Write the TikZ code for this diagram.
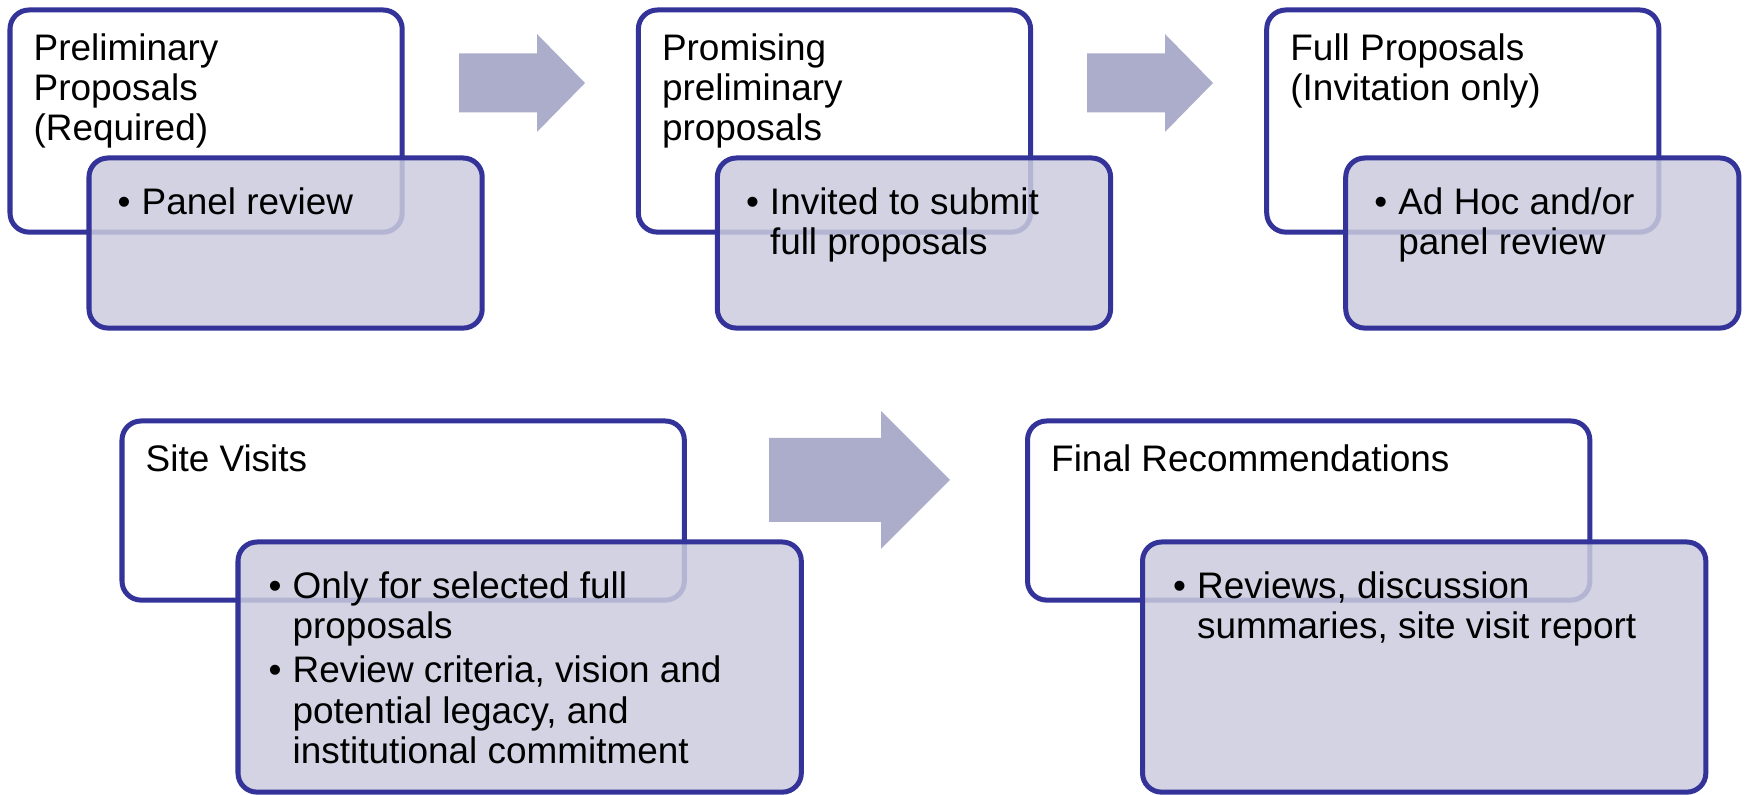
\documentclass[tikz,border=0pt]{standalone}
\usepackage{fontspec}
\setmainfont{Liberation Sans}
\usetikzlibrary{positioning}
\definecolor{stageline}{RGB}{51,51,153}
\definecolor{panelfill}{RGB}{203,203,222}
\definecolor{flowfill}{RGB}{172,172,203}
\newcommand{\bitem}{\textbullet}

\begin{document}
\begin{tikzpicture}[x=0.01cm,y=-0.01cm,node distance=2.36cm,font=\fontsize{10.5}{11.4}\selectfont,
  stage/.style={draw=stageline,line width=0.05cm,rounded corners=0.19cm,fill=white,inner sep=0pt,outer sep=0pt,minimum width=3.92cm,minimum height=2.22cm},
  panel/.style={stage,fill=panelfill,fill opacity=0.85,minimum width=3.93cm,minimum height=1.70cm},
  head/.style={align=left,inner sep=0pt,anchor=north west},
  pts/.style={inner sep=0pt,anchor=north west},
  flow/.style={fill=flowfill}]
\useasboundingbox (0,0) rectangle (1747,795);
% top row
\node[stage,anchor=north west] (pre) at (10,10) {};
\node[stage,right=of pre] (prom) {};
\node[stage,right=of prom] (full) {};
\node[head] (pretxt) at ([shift={(23,23)}]pre.north west) {Preliminary\\Proposals\\(Required)};
\node[head] (promtxt) at ([shift={(23,23)}]prom.north west) {Promising\\preliminary\\proposals};
\node[head] (fulltxt) at ([shift={(23,23)}]full.north west) {Full Proposals\\(Invitation only)};
\node[panel,anchor=north west] (prelist) at ([shift={(79,148)}]pre.north west) {};
\node[panel,anchor=north west] (promlist) at ([shift={(79,148)}]prom.north west) {};
\node[panel,anchor=north west] (fulllist) at ([shift={(79,148)}]full.north west) {};
\node[pts] (prept) at ([shift={(28,28)}]prelist.north west) {\begin{tabular}{@{}l@{\hspace{0.11cm}}l@{}}\bitem & Panel review\end{tabular}};
\node[pts] (prompt) at ([shift={(28,28)}]promlist.north west) {\begin{tabular}{@{}l@{\hspace{0.11cm}}l@{}}\bitem & Invited to submit\\ & full proposals\end{tabular}};
\node[pts] (fullpt) at ([shift={(28,28)}]fulllist.north west) {\begin{tabular}{@{}l@{\hspace{0.11cm}}l@{}}\bitem & Ad Hoc and/or\\ & panel review\end{tabular}};
\fill[flow] (459,53.5) -- (537,53.5) -- (537,34) -- (585,83) -- (537,132) -- (537,112.5) -- (459,112.5) -- cycle;
\fill[flow] (1087,53.5) -- (1165,53.5) -- (1165,34) -- (1213,83) -- (1165,132) -- (1165,112.5) -- (1087,112.5) -- cycle;
% bottom row
\node[stage,anchor=north west,minimum width=5.62cm,minimum height=1.79cm] (site) at (122,421) {};
\node[stage,minimum width=5.62cm,minimum height=1.79cm,right=3.43cm of site] (final) {};
\node[head] (sitetxt) at ([shift={(23,23)}]site.north west) {Site Visits};
\node[head] (finaltxt) at ([shift={(23,23)}]final.north west) {Final Recommendations};
\node[panel,anchor=north west,minimum width=5.63cm,minimum height=2.50cm] (sitelist) at ([shift={(116,121)}]site.north west) {};
\node[panel,anchor=north west,minimum width=5.63cm,minimum height=2.50cm] (finallist) at ([shift={(115,121)}]final.north west) {};
\node[pts] (sitept) at ([shift={(30,28)}]sitelist.north west) {\begin{tabular}{@{}l@{\hspace{0.11cm}}l@{}}\bitem & Only for selected full\\ & proposals\\[0.04cm]
  \bitem & Review criteria, vision and\\ & potential legacy, and\\ & institutional commitment\end{tabular}};
\node[pts] (finalpt) at ([shift={(30,28)}]finallist.north west) {\begin{tabular}{@{}l@{\hspace{0.11cm}}l@{}}\bitem & Reviews, discussion\\ & summaries, site visit report\end{tabular}};
\fill[flow] (769,438) -- (881,438) -- (881,411) -- (950,480) -- (881,549) -- (881,522) -- (769,522) -- cycle;
\end{tikzpicture}
\end{document}
